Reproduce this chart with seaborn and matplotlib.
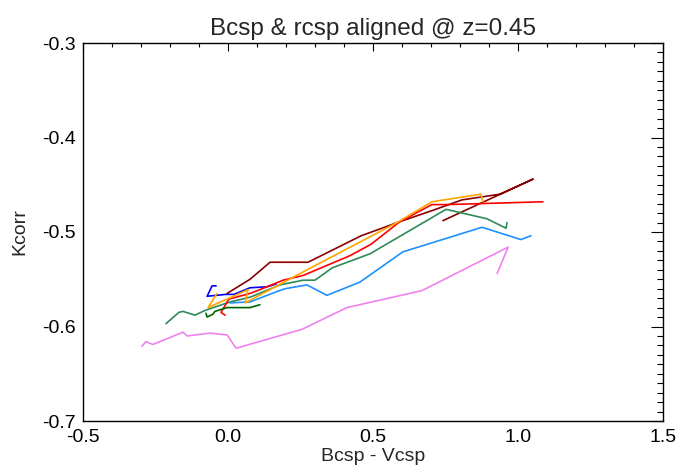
import numpy as np
import pandas as pd
import matplotlib
matplotlib.use("Agg")
import matplotlib.pyplot as plt
import seaborn as sns
from matplotlib.ticker import MultipleLocator

# ---- data ----
violet_x = [-0.297, -0.283, -0.259, -0.155, -0.141, -0.062, -0.003, 0.028, 0.255, 0.410, 0.669, 0.966, 0.928]
violet_y = [-0.621, -0.616, -0.619, -0.606, -0.610, -0.607, -0.609, -0.623, -0.603, -0.580, -0.562, -0.516, -0.544]

blue_x = [-0.041, -0.055, -0.072, -0.007, 0.021, 0.076, 0.134, 0.166]
blue_y = [-0.557, -0.557, -0.568, -0.566, -0.566, -0.559, -0.558, -0.555]

darkred_x = [-0.003, 0.076, 0.145, 0.276, 0.459, 0.593, 0.707, 0.807, 0.938, 1.052, 0.741]
darkred_y = [-0.565, -0.550, -0.532, -0.532, -0.504, -0.489, -0.477, -0.466, -0.460, -0.444, -0.488]

red_x = [-0.010, -0.024, 0.003, 0.076, 0.110, 0.190, 0.259, 0.421, 0.493, 0.593, 0.703, 0.755, 1.086]
red_y = [-0.588, -0.585, -0.571, -0.565, -0.561, -0.551, -0.546, -0.525, -0.513, -0.489, -0.471, -0.471, -0.468]

orange_x = [-0.038, -0.069, 0.069, 0.059, 0.279, 0.583, 0.703, 0.872, 0.879]
orange_y = [-0.565, -0.580, -0.561, -0.575, -0.539, -0.490, -0.468, -0.460, -0.468]

seagreen_x = [-0.214, -0.169, -0.155, -0.114, -0.079, 0.007, 0.076, 0.179, 0.259, 0.300, 0.359, 0.490, 0.752, 0.893, 0.959, 0.962]
seagreen_y = [-0.597, -0.585, -0.584, -0.588, -0.583, -0.574, -0.569, -0.556, -0.551, -0.551, -0.538, -0.523, -0.476, -0.486, -0.496, -0.490]

darkgreen_x = [-0.076, -0.072, -0.052, -0.045, -0.003, 0.076, 0.110]
darkgreen_y = [-0.586, -0.590, -0.587, -0.584, -0.580, -0.580, -0.577]

dodger_x = [0.007, 0.076, 0.169, 0.197, 0.272, 0.341, 0.455, 0.603, 0.876, 1.010, 1.045]
dodger_y = [-0.575, -0.574, -0.563, -0.560, -0.556, -0.567, -0.553, -0.521, -0.495, -0.508, -0.504]

series = [
    ("violet", violet_x, violet_y, "#EE82EE"),
    ("blue", blue_x, blue_y, "#0000FF"),
    ("darkred", darkred_x, darkred_y, "#8B0000"),
    ("seagreen", seagreen_x, seagreen_y, "#2E8B57"),
    ("dodgerblue", dodger_x, dodger_y, "#1E90FF"),
    ("red", red_x, red_y, "#FF0000"),
    ("orange", orange_x, orange_y, "#FFA500"),
    ("darkgreen", darkgreen_x, darkgreen_y, "#006400"),
]

rows = []
for name, xs, ys, _ in series:
    for i, (x, y) in enumerate(zip(xs, ys)):
        rows.append({"name": name, "order": i, "x": x, "y": y})
df = pd.DataFrame(rows)
palette = {name: c for name, _, _, c in series}

sns.set_style("white")
plt.rcParams["font.family"] = ["Liberation Sans", "DejaVu Sans"]

fig = plt.figure(figsize=(6.83, 4.76), dpi=100)
ax = fig.add_axes([83 / 683, 1 - 421 / 476, 580 / 683, 378 / 476])

sns.lineplot(data=df, x="x", y="y", hue="name", palette=palette,
             hue_order=[s[0] for s in series], sort=False, estimator=None,
             linewidth=1.2, legend=False, ax=ax)

ax.set_xlim(-0.5, 1.5)
ax.set_ylim(-0.7, -0.3)
ax.xaxis.set_major_locator(MultipleLocator(0.5))
ax.xaxis.set_minor_locator(MultipleLocator(0.1))
ax.yaxis.set_major_locator(MultipleLocator(0.1))
ax.yaxis.set_minor_locator(MultipleLocator(0.01))
ax.xaxis.set_major_formatter(matplotlib.ticker.FormatStrFormatter("%.1f"))
ax.yaxis.set_major_formatter(matplotlib.ticker.FormatStrFormatter("%.1f"))

ax.tick_params(axis="both", which="both", direction="in", top=True, right=True,
               colors="black", labelsize=14, width=0.8)
ax.tick_params(axis="x", which="major", length=5.5, pad=6)
ax.tick_params(axis="x", which="minor", length=2.8)
ax.tick_params(axis="y", which="major", length=8.5, pad=5)
ax.tick_params(axis="y", which="minor", length=4.2)
for sp in ax.spines.values():
    sp.set_color("black")
    sp.set_linewidth(1.0)

ax.set_xlabel("Bcsp - Vcsp", fontsize=14, labelpad=1)
ax.set_ylabel("Kcorr", fontsize=14, labelpad=10)
ax.set_title("Bcsp & rcsp aligned @ z=0.45", fontsize=17.5, pad=6)

fig.savefig("out.png", dpi=100)
